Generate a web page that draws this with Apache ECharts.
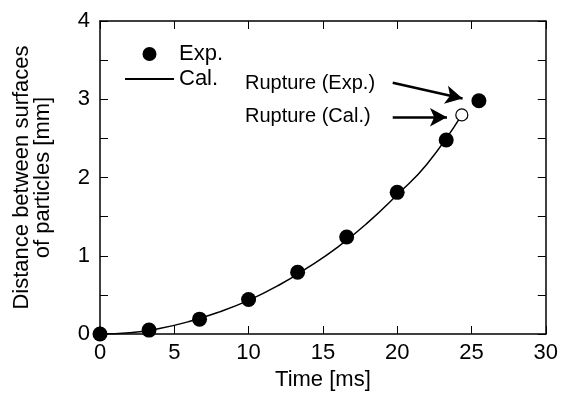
<!DOCTYPE html>
<html>
<head>
<meta charset="utf-8">
<script src="https://cdn.jsdelivr.net/npm/echarts@6/dist/echarts.min.js"></script>
<style>
  html, body { margin: 0; padding: 0; background: #fff; }
  #main { width: 561px; height: 396px; }
</style>
</head>
<body>
<div id="main"></div>
<script>
// experimental points
const expTime = [0, 3.3, 6.7, 10, 13.3, 16.6, 20, 23.3, 25.5];
const expDist = [0, 0.05, 0.19, 0.44, 0.79, 1.24, 1.81, 2.48, 2.98];
// calculated curve
const calTime = [0, 2, 4, 6, 8, 10, 12, 14, 16, 18, 20, 22, 24.35];
const calDist = [0, 0.015, 0.07, 0.16, 0.28, 0.43, 0.62, 0.85, 1.11, 1.42, 1.78, 2.17, 2.8];
// rupture point of calculation
const calRupture = [24.35, 2.8];
// arrows [from, to]
const arrowExp = [[19.7, 3.21], [24.4, 3.01]];
const arrowCal = [[19.7, 2.77], [23.35, 2.77]];
const xTicks = [0, 5, 10, 15, 20, 25, 30];
const yTicks = [0, 1, 2, 3, 4];

const font = 'Liberation Sans, Arial, sans-serif';

let chartDom = document.getElementById('main');
let myChart = echarts.init(chartDom);
let option;

const toPairs = (xs, ys) => xs.map((x, i) => [x, ys[i]]);

const axisBase = {
  type: 'value',
  axisLine: { show: true, onZero: false, lineStyle: { color: '#000', width: 1.5 } },
  axisTick: { show: true, inside: true, length: 8, lineStyle: { color: '#000', width: 1 } },
  splitLine: { show: false },
};

option = {
  animation: false,
  backgroundColor: '#fff',
  textStyle: { fontFamily: font, color: '#000' },
  grid: { left: 100, right: 15, top: 21, bottom: 59 },
  legend: {
    orient: 'vertical',
    left: 119,
    top: 38,
    itemWidth: 49,
    itemHeight: 14,
    itemGap: 3,
    textStyle: { fontFamily: font, fontSize: 22, color: '#000' },
    data: [
      { name: 'Exp.', icon: 'circle' },
      { name: 'Cal.', itemStyle: { opacity: 0 } },
    ],
  },
  xAxis: [
    Object.assign({}, axisBase, {
      min: xTicks[0], max: xTicks[xTicks.length - 1], interval: 5,
      name: 'Time [ms]', nameLocation: 'middle', nameGap: 35,
      nameTextStyle: { fontFamily: font, fontSize: 22, color: '#000' },
      axisLabel: { fontFamily: font, fontSize: 22, color: '#000', margin: 8 },
    }),
    Object.assign({}, axisBase, {
      position: 'top', min: xTicks[0], max: xTicks[xTicks.length - 1], interval: 5,
      axisLabel: { show: false },
    }),
  ],
  yAxis: [
    Object.assign({}, axisBase, {
      min: yTicks[0], max: yTicks[yTicks.length - 1], interval: 0.5,
      name: 'Distance between surfaces\nof particles [mm]', nameLocation: 'middle', nameGap: 47,
      nameTextStyle: { fontFamily: font, fontSize: 22, color: '#000', lineHeight: 21 },
      axisLabel: {
        fontFamily: font, fontSize: 22, color: '#000', margin: 10,
        formatter: v => (yTicks.indexOf(v) >= 0 ? String(v) : ''),
      },
    }),
    Object.assign({}, axisBase, {
      position: 'right', min: yTicks[0], max: yTicks[yTicks.length - 1], interval: 0.5,
      axisLabel: { show: false },
    }),
  ],
  graphic: [
    { type: 'text', left: 245, top: 73, style: { text: 'Rupture (Exp.)', font: '20px ' + font, fill: '#000' } },
    { type: 'text', left: 245, top: 106, style: { text: 'Rupture (Cal.)', font: '20px ' + font, fill: '#000' } },
  ],
  series: [
    {
      name: 'Cal.',
      type: 'line',
      smooth: true,
      symbol: 'none',
      lineStyle: { color: '#000', width: 1.5 },
      itemStyle: { color: '#000' },
      data: toPairs(calTime, calDist),
      z: 2,
      markLine: {
        silent: true,
        symbol: ['none', 'arrow'],
        symbolSize: [14, 17],
        label: { show: false },
        itemStyle: { color: '#000' },
        lineStyle: { color: '#000', width: 2.5, type: 'solid' },
        data: [
          [{ coord: arrowExp[0] }, { coord: arrowExp[1] }],
          [{ coord: arrowCal[0] }, { coord: arrowCal[1] }],
        ],
      },
    },
    {
      name: 'Cal. rupture',
      type: 'scatter',
      symbol: 'circle',
      symbolSize: 12,
      itemStyle: { color: '#fff', borderColor: '#000', borderWidth: 1.2, opacity: 1 },
      data: [calRupture],
      z: 4,
    },
    {
      name: 'Exp.',
      type: 'scatter',
      symbol: 'circle',
      symbolSize: 15,
      itemStyle: { color: '#000', opacity: 1 },
      data: toPairs(expTime, expDist),
      z: 3,
    },
  ],
};

option && myChart.setOption(option);
</script>
</body>
</html>
